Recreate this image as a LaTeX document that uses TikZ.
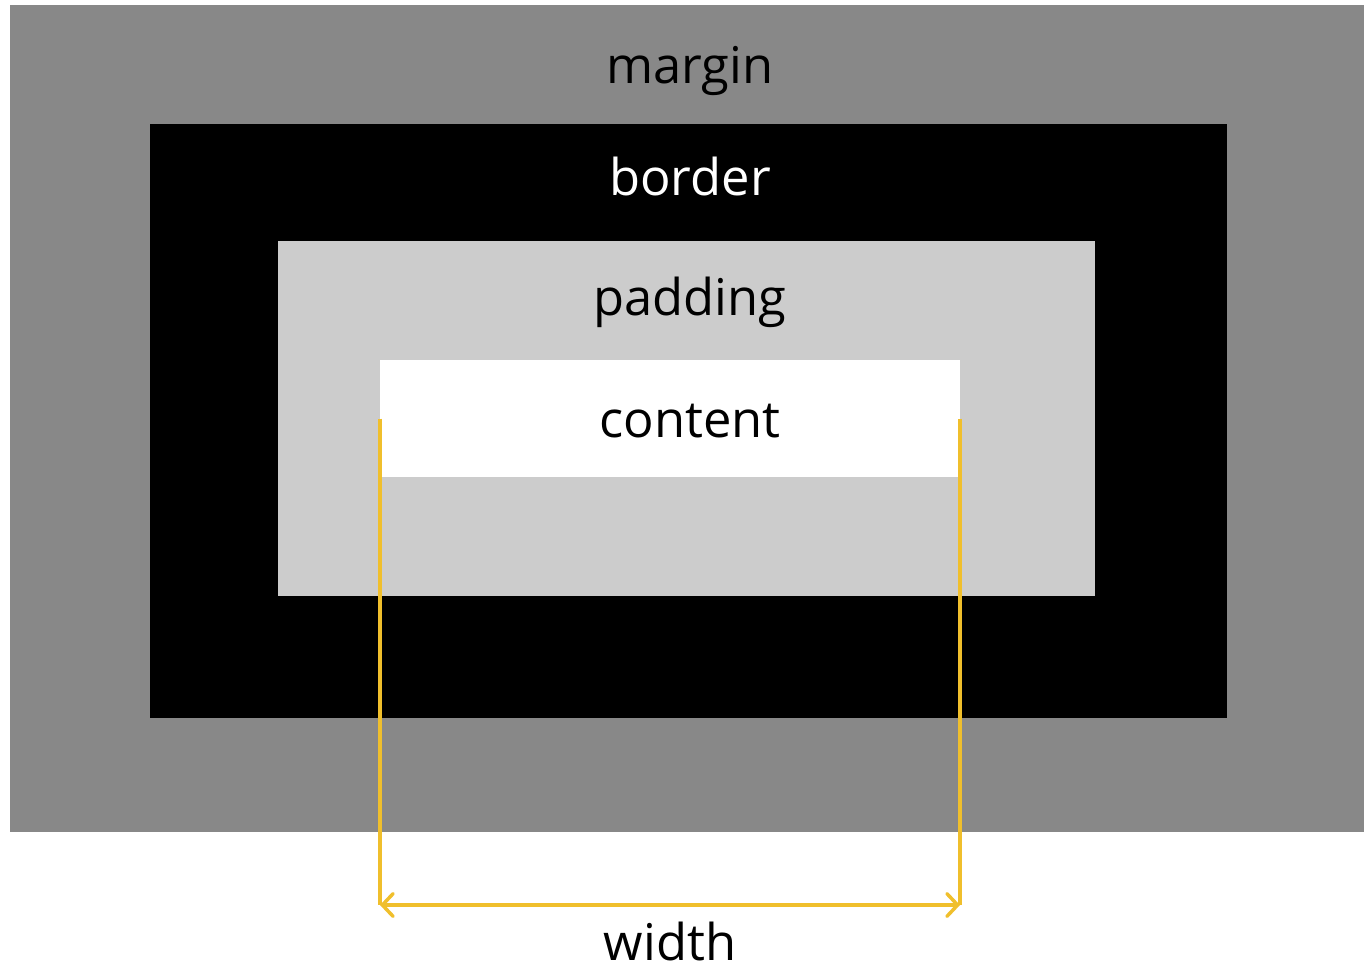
\documentclass[tikz,border=0pt]{standalone}
\usepackage{fontspec}
\setmainfont{Open Sans}
\usepackage{tikz}
\usetikzlibrary{
	arrows.meta,									% arrow tips
	fit,											% boxes fitted to coordinates
	positioning,									% relative placement
}
\definecolor{margingrey}{HTML}{888888}
\definecolor{paddinggrey}{HTML}{CCCCCC}
\definecolor{guideyellow}{HTML}{F0BF2C}

\begin{document}
\begin{tikzpicture}[x=0.75pt, y=-0.75pt,
		layer/.style={inner sep=0pt, outer sep=0pt, draw=none},
		lbl/.style={anchor=base, inner sep=0pt, font=\fontsize{38}{45}\selectfont},
		guide/.style={guideyellow, line width=2.6pt},
		dimarrow/.style={guide, arrows={Straight Barb[length=8pt, width=17pt, line cap=round]-Straight Barb[length=8pt, width=17pt, line cap=round]}},
	]
		\useasboundingbox [fill=white] (0,0) rectangle (1364,978);
		% the nested boxes
		\coordinate (m1) at (10,5);    \coordinate (m2) at (1364,832);
		\coordinate (b1) at (150,124); \coordinate (b2) at (1227,718);
		\coordinate (p1) at (278,241); \coordinate (p2) at (1095,596);
		\coordinate (c1) at (380,360); \coordinate (c2) at (960,477);
		\node [layer, fill=margingrey, fit=(m1)(m2)] (marginbox) {};
		\node [layer, fill=black, fit=(b1)(b2)] (borderbox) {};
		\node [layer, fill=paddinggrey, fit=(p1)(p2)] (paddingbox) {};
		\node [layer, fill=white, fit=(c1)(c2)] (contentbox) {};
		% labels
		\node [lbl] (marginlabel) at (690,83) {margin};
		\node [lbl, white] (borderlabel) at (690,195) {border};
		\node [lbl] (paddinglabel) at (690,315) {padding};
		\node [lbl] (contentlabel) at (690,437) {content};
		% width
		\coordinate (wl) at (380,905);
		\coordinate (wr) at (960,905);
		\draw [guide] (contentbox.west) -- (wl);
		\draw [guide] (contentbox.east) -- (wr);
		\draw [dimarrow] (wl) -- (wr);
		\node [lbl] (widthlabel) at (670,960) {width};
	\end{tikzpicture}
\end{document}
